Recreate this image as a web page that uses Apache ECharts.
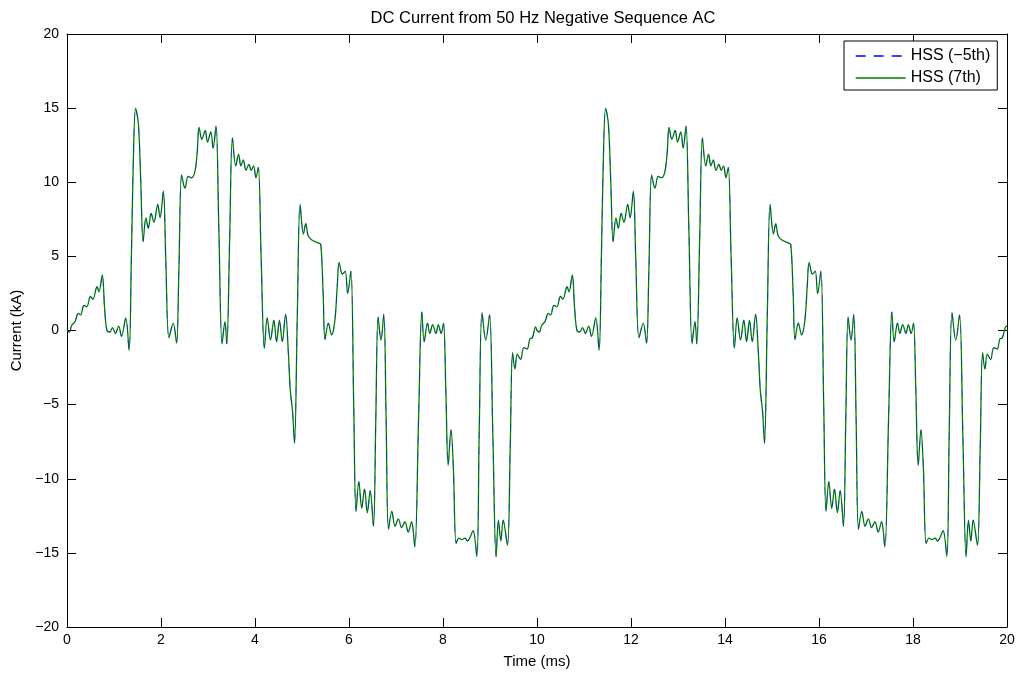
<!DOCTYPE html>
<html>
<head>
<meta charset="utf-8">
<script src="https://cdn.jsdelivr.net/npm/echarts@6/dist/echarts.min.js"></script>
<style>
  html, body { margin: 0; padding: 0; background: #fff; }
  #chart { width: 1023px; height: 675px; }
</style>
</head>
<body>
<div id="chart"></div>
<script>
// one 10 ms period (the picture repeats it from 10 to 20 ms)
var periodTime = [
  0.00, 0.05, 0.10, 0.17, 0.24, 0.29, 0.36, 0.42, 0.50, 0.55, 0.64, 0.68, 0.75, 0.80, 0.85, 0.91, 0.97, 1.03, 1.10, 1.16,
  1.25, 1.32, 1.37, 1.41, 1.46, 1.52, 1.57, 1.62, 1.68, 1.73, 1.79, 1.85, 1.93, 1.98, 2.05, 2.10, 2.17, 2.26, 2.33, 2.38,
  2.44, 2.51, 2.58, 2.65, 2.72, 2.77, 2.81, 2.87, 2.94, 2.99, 3.06, 3.11, 3.17, 3.23, 3.30, 3.36, 3.40, 3.46, 3.52, 3.59,
  3.65, 3.70, 3.75, 3.81, 3.87, 3.92, 3.97, 4.02, 4.07, 4.13, 4.20, 4.26, 4.33, 4.40, 4.46, 4.52, 4.58, 4.65, 4.71, 4.75,
  4.80, 4.84, 4.90, 4.96, 5.03, 5.08, 5.13, 5.21, 5.28, 5.35, 5.40, 5.45, 5.49, 5.56, 5.63, 5.70, 5.75, 5.79, 5.86, 5.92,
  5.97, 6.04, 6.10, 6.15, 6.21, 6.27, 6.33, 6.39, 6.45, 6.52, 6.57, 6.62, 6.68, 6.74, 6.79, 6.84, 6.91, 6.98, 7.05, 7.12,
  7.19, 7.26, 7.33, 7.40, 7.48, 7.55, 7.60, 7.67, 7.72, 7.78, 7.85, 7.90, 7.96, 8.01, 8.06, 8.11, 8.17, 8.22, 8.28, 8.34,
  8.40, 8.47, 8.52, 8.57, 8.64, 8.72, 8.77, 8.83, 8.91, 8.99, 9.06, 9.13, 9.18, 9.23, 9.28, 9.37, 9.43, 9.48, 9.53, 9.58,
  9.65, 9.72, 9.79, 9.85, 9.90, 9.97
];
var periodCurrent = [
  0.0, -0.1, 0.35, 0.6, 1.15, 1.05, 1.7, 1.6, 2.3, 2.1, 2.95, 2.6, 3.75, 1.5, 0.0, -0.1, 0.2, -0.2, 0.3, -0.4,
  0.85, -1.35, 5.0, 11.3, 15.0, 13.9, 10.0, 6.0, 7.6, 6.9, 7.9, 7.3, 8.5, 7.6, 9.4, 5.0, -0.5, 0.5, -0.85, 4.0,
  10.5, 9.6, 10.4, 10.3, 10.7, 12.0, 13.7, 12.9, 13.5, 12.7, 13.4, 12.3, 13.8, 7.0, -0.9, 0.6, -0.9, 6.0, 13.0, 11.1,
  11.9, 11.1, 11.5, 10.8, 11.2, 10.8, 11.1, 10.3, 11.0, 5.0, -1.2, 0.85, -0.65, 0.7, -0.75, 0.7, -0.75, 1.1, -1.5, -4.0,
  -5.5, -7.6, 1.0, 8.5, 6.5, 7.2, 6.4, 6.1, 6.0, 5.9, 5.8, 2.5, -0.6, 0.5, -0.3, 0.7, 3.0, 4.6, 3.8, 4.0,
  2.5, 4.0, -5.0, -12.2, -10.2, -12.0, -10.7, -12.3, -10.8, -13.2, -6.0, 0.9, -0.65, 1.1, -6.0, -13.4, -12.2, -13.2, -12.7, -13.3,
  -12.9, -13.6, -12.9, -14.6, -6.0, 1.25, -0.75, 0.5, -0.2, 0.4, -0.2, 0.4, -0.2, 0.5, -4.0, -9.1, -6.7, -9.2, -14.35, -14.0,
  -14.1, -14.0, -14.2, -14.0, -13.5, -15.25, -7.0, 1.2, -0.65, 1.05, -7.0, -15.25, -12.8, -14.2, -12.8, -14.5, -7.9, -1.5, -2.6, -1.6,
  -1.95, -1.15, -1.25, -0.55, -0.5, 0.25
];
var endPoint = [20.0, 0.3];

var xTicks = [0, 2, 4, 6, 8, 10, 12, 14, 16, 18, 20];
var yTicks = [-20, -15, -10, -5, 0, 5, 10, 15, 20];

var titleText = 'DC Current from 50 Hz Negative Sequence AC';
var seriesNames = ['HSS (\u22125th)', 'HSS (7th)'];

function buildCurve() {
  var pts = [];
  [0, 10].forEach(function(offset){
    for (var i = 0; i < periodTime.length; i++) {
      pts.push([periodTime[i] + offset, periodCurrent[i]]);
    }
  });
  pts.push(endPoint);
  return pts;
}
var negFifth = buildCurve();
var seventh = buildCurve();

var font = "'Liberation Sans', Arial, sans-serif";
var minus = function(v){ return String(v).replace('-', '\u2212'); };

var chart = echarts.init(document.getElementById('chart'));

var xBase = {
  type: 'value', min: xTicks[0], max: xTicks[xTicks.length - 1], interval: 2,
  axisLine: { show: true, onZero: false, lineStyle: { color: '#000', width: 1 } },
  axisTick: { show: true, inside: true, length: 9, lineStyle: { color: '#000' } },
  splitLine: { show: false }
};
var yBase = {
  type: 'value', min: yTicks[0], max: yTicks[yTicks.length - 1], interval: 5,
  axisLine: { show: true, onZero: false, lineStyle: { color: '#000', width: 1 } },
  axisTick: { show: true, inside: true, length: 9, lineStyle: { color: '#000' } },
  splitLine: { show: false }
};

chart.setOption({
  animation: false,
  backgroundColor: '#fff',
  textStyle: { fontFamily: font },
  title: {
    text: titleText,
    left: 538, top: 5, textAlign: 'center',
    textStyle: { fontFamily: font, fontSize: 16.5, fontWeight: 'normal', color: '#000' }
  },
  grid: { left: 67, right: 16, top: 34, bottom: 48, containLabel: false },
  legend: {
    orient: 'vertical',
    left: 844, top: 41,
    itemWidth: 50, itemHeight: 14, itemGap: 6,
    padding: [7, 7, 4, 11],
    borderColor: '#000', borderWidth: 1, backgroundColor: '#fff', borderRadius: 0,
    textStyle: { fontFamily: font, fontSize: 16, color: '#000', lineHeight: 14 },
    data: [
      { name: seriesNames[0], itemStyle: { opacity: 0 }, lineStyle: { color: '#0000ff', type: [10, 8], width: 1.4, opacity: 1 } },
      { name: seriesNames[1], itemStyle: { opacity: 0 }, lineStyle: { color: '#008000', width: 1.4, opacity: 1 } }
    ]
  },
  xAxis: [
    Object.assign({}, xBase, {
      position: 'bottom',
      name: 'Time (ms)', nameLocation: 'middle', nameGap: 27,
      nameTextStyle: { fontFamily: font, fontSize: 15, color: '#000' },
      axisLabel: { color: '#000', fontFamily: font, fontSize: 14, margin: 6 }
    }),
    Object.assign({}, xBase, { position: 'top', axisLabel: { show: false } })
  ],
  yAxis: [
    Object.assign({}, yBase, {
      position: 'left',
      name: 'Current (kA)', nameLocation: 'middle', nameGap: 41, nameRotate: 90,
      nameTextStyle: { fontFamily: font, fontSize: 15, color: '#000' },
      axisLabel: { color: '#000', fontFamily: font, fontSize: 14, margin: 8, formatter: minus }
    }),
    Object.assign({}, yBase, { position: 'right', axisLabel: { show: false } })
  ],
  series: [
    {
      name: seriesNames[1], type: 'line', data: seventh, showSymbol: false, symbol: 'none',
      smooth: 0.35, z: 2, lineStyle: { color: '#008000', width: 1.3 }, itemStyle: { color: '#008000' }
    },
    {
      name: seriesNames[0], type: 'line', data: negFifth, showSymbol: false, symbol: 'none',
      smooth: 0.35, z: 3, lineStyle: { color: '#0000ff', width: 1, type: [8, 8], opacity: 0.4 }, itemStyle: { color: '#0000ff' }
    }
  ]
});
</script>
</body>
</html>
